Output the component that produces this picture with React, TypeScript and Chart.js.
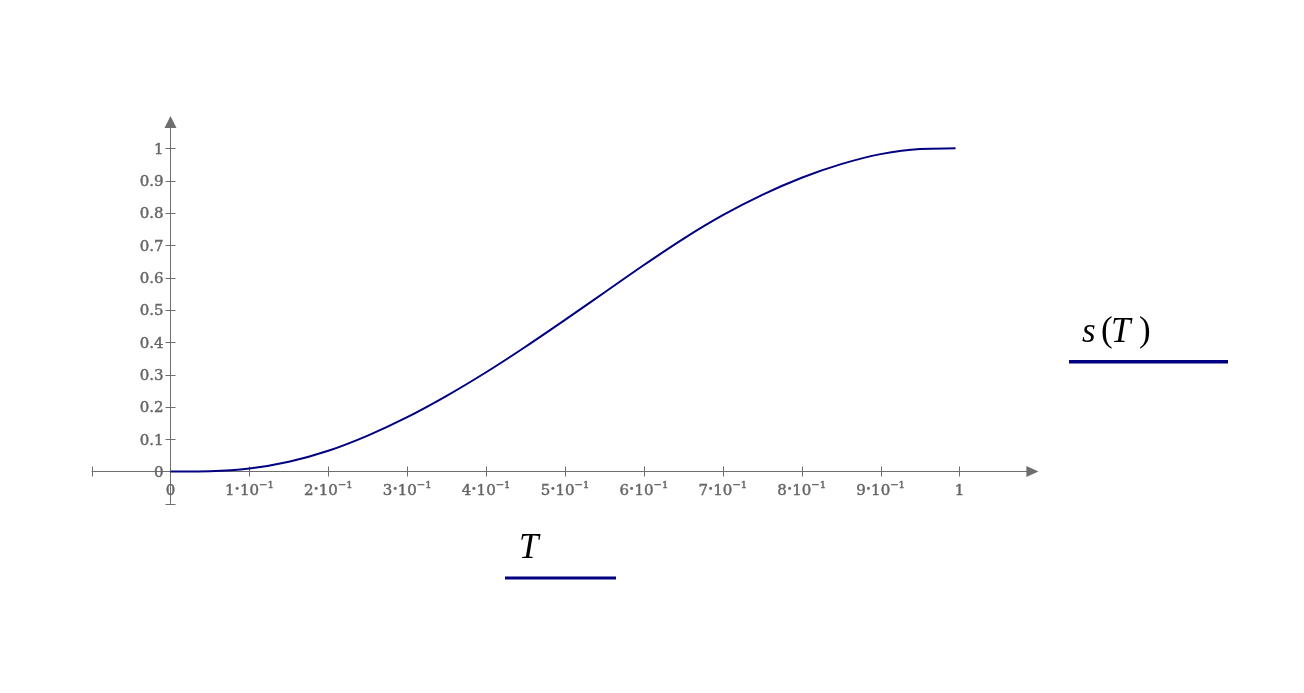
import React, { useEffect, useRef } from "react";
import { Chart, registerables } from "chart.js";

Chart.register(...registerables);

// ---- data ----
const T_VALUES = [0, 0.05, 0.1, 0.15, 0.2, 0.25, 0.3, 0.35, 0.4, 0.45, 0.5, 0.55, 0.6, 0.65, 0.7, 0.75, 0.8, 0.85, 0.9, 0.95, 0.995];
const S_VALUES = [0, 0.001, 0.009, 0.03, 0.064, 0.111, 0.168, 0.234, 0.307, 0.386, 0.469, 0.554, 0.639, 0.72, 0.793, 0.856, 0.909, 0.951, 0.982, 0.998, 1.0];

const X_TICKS = [0, 0.1, 0.2, 0.3, 0.4, 0.5, 0.6, 0.7, 0.8, 0.9, 1];
const X_TICK_LABELS = ["0", "1•10^−1", "2•10^−1", "3•10^−1", "4•10^−1", "5•10^−1", "6•10^−1", "7•10^−1", "8•10^−1", "9•10^−1", "1"];
const Y_TICKS = [0, 0.1, 0.2, 0.3, 0.4, 0.5, 0.6, 0.7, 0.8, 0.9, 1];
const Y_TICK_LABELS = ["0", "0.1", "0.2", "0.3", "0.4", "0.5", "0.6", "0.7", "0.8", "0.9", "1"];

const X_AXIS_LABEL = "T";
const Y_AXIS_LABEL = ["s", "(", "T", ")"];

const AXIS_COLOR = "#6e6e6e";
const TICK_TEXT_COLOR = "#666666";
const CURVE_COLOR = "#000080";
const TICK_FONT = '15px "DejaVu Serif", serif';
const SUP_FONT = '10px "DejaVu Serif", serif';
const DOT_FONT = '9px "DejaVu Serif", serif';

function boldText(ctx: CanvasRenderingContext2D, text: string, x: number, y: number) {
  ctx.fillText(text, x, y);
  ctx.strokeText(text, x, y);
}

function drawTickLabel(ctx: CanvasRenderingContext2D, label: string, cx: number, baseline: number) {
  const [main, sup] = label.split("^");
  const parts = main.split("•");
  const segs: { text: string; font: string; dy: number }[] = [];
  parts.forEach((p, i) => {
    if (i > 0) segs.push({ text: "•", font: DOT_FONT, dy: -3 });
    segs.push({ text: p, font: TICK_FONT, dy: 0 });
  });
  if (sup) segs.push({ text: sup, font: SUP_FONT, dy: -6.5 });
  let total = 0;
  const widths = segs.map((s) => {
    ctx.font = s.font;
    const w = ctx.measureText(s.text).width;
    total += w;
    return w;
  });
  let x = cx - total / 2;
  ctx.textAlign = "left";
  ctx.textBaseline = "alphabetic";
  segs.forEach((s, i) => {
    ctx.font = s.font;
    boldText(ctx, s.text, x, baseline + s.dy);
    x += widths[i];
  });
}

const axesPlugin = {
  id: "mathcadAxes",
  beforeDatasetsDraw(chart: any) {
    const ctx: CanvasRenderingContext2D = chart.ctx;
    const xs = chart.scales.x;
    const ys = chart.scales.y;
    const x0 = Math.round(xs.getPixelForValue(0)) + 0.5;
    const y0 = Math.round(ys.getPixelForValue(0)) + 0.5;
    const xL = xs.getPixelForValue(xs.min);
    const xR = xs.getPixelForValue(xs.max);
    const yB = ys.getPixelForValue(ys.min);
    const yT = ys.getPixelForValue(ys.max);
    ctx.save();
    ctx.strokeStyle = AXIS_COLOR;
    ctx.fillStyle = AXIS_COLOR;
    ctx.lineWidth = 1;
    ctx.beginPath();
    ctx.moveTo(xL, y0);
    ctx.lineTo(xR - 8, y0);
    ctx.moveTo(Math.round(xL) + 0.5, y0 - 5);
    ctx.lineTo(Math.round(xL) + 0.5, y0 + 5);
    ctx.moveTo(x0, yB);
    ctx.lineTo(x0, yT + 8);
    ctx.moveTo(x0 - 5, Math.round(yB) + 0.5);
    ctx.lineTo(x0 + 5, Math.round(yB) + 0.5);
    X_TICKS.forEach((v) => {
      if (v === 0) return;
      const px = Math.round(xs.getPixelForValue(v)) + 0.5;
      ctx.moveTo(px, y0 - 5);
      ctx.lineTo(px, y0 + 5);
    });
    Y_TICKS.forEach((v) => {
      if (v === 0) return;
      const py = Math.round(ys.getPixelForValue(v)) + 0.5;
      ctx.moveTo(x0 - 5, py);
      ctx.lineTo(x0 + 5, py);
    });
    ctx.stroke();
    ctx.beginPath();
    ctx.moveTo(xR, y0);
    ctx.lineTo(xR - 12, y0 - 5.5);
    ctx.lineTo(xR - 12, y0 + 5.5);
    ctx.closePath();
    ctx.fill();
    ctx.beginPath();
    ctx.moveTo(x0, yT);
    ctx.lineTo(x0 - 6, yT + 12);
    ctx.lineTo(x0 + 6, yT + 12);
    ctx.closePath();
    ctx.fill();

    ctx.fillStyle = TICK_TEXT_COLOR;
    ctx.strokeStyle = TICK_TEXT_COLOR;
    ctx.lineWidth = 0.45;
    X_TICKS.forEach((v, i) => {
      const px = xs.getPixelForValue(v);
      drawTickLabel(ctx, X_TICK_LABELS[i], px, y0 + 23);
    });
    ctx.font = TICK_FONT;
    ctx.textAlign = "right";
    ctx.textBaseline = "alphabetic";
    Y_TICKS.forEach((v, i) => {
      const py = ys.getPixelForValue(v);
      boldText(ctx, Y_TICK_LABELS[i], 163.5, py + 5.5);
    });
    ctx.restore();
  },
  afterDraw(chart: any) {
    const ctx: CanvasRenderingContext2D = chart.ctx;
    ctx.save();
    ctx.fillStyle = "#000000";
    ctx.textAlign = "left";
    ctx.textBaseline = "alphabetic";
    // x-axis expression
    ctx.font = 'italic 35px "Liberation Serif", serif';
    ctx.fillText(X_AXIS_LABEL, 519, 558);
    ctx.fillStyle = CURVE_COLOR;
    ctx.fillRect(505, 576.5, 111, 3);
    // y-axis expression (legend)
    ctx.fillStyle = "#000000";
    const glyphX = [1082, 1101, 1111, 1139];
    Y_AXIS_LABEL.forEach((s, i) => {
      const italic = s === "s" || s === "T";
      ctx.font = (italic ? "italic " : "") + '35px "Liberation Serif", serif';
      ctx.fillText(s, glyphX[i], italic ? 342 : 341);
    });
    ctx.fillStyle = CURVE_COLOR;
    ctx.fillRect(1069, 360, 159, 3.5);
    ctx.restore();
  },
};

export default function App() {
  const canvasRef = useRef<HTMLCanvasElement | null>(null);
  useEffect(() => {
    document.body.style.margin = "0";
    const canvas = canvasRef.current;
    if (!canvas) return;
    const chart = new Chart(canvas, {
      type: "line",
      data: {
        datasets: [
          {
            data: T_VALUES.map((t, i) => ({ x: t, y: S_VALUES[i] })),
            borderColor: CURVE_COLOR,
            borderWidth: 2,
            pointRadius: 0,
            fill: false,
            cubicInterpolationMode: "monotone",
          } as any,
        ],
      },
      options: {
        animation: false,
        responsive: false,
        devicePixelRatio: 1,
        events: [],
        layout: { padding: { left: 91.6, right: 265.6, top: 116, bottom: 189.2 } },
        scales: {
          x: { type: "linear", min: -0.1, max: 1.1, display: false },
          y: { type: "linear", min: -0.1, max: 1.1, display: false },
        },
        plugins: { legend: { display: false }, tooltip: { enabled: false } },
      },
      plugins: [axesPlugin],
    });
    return () => chart.destroy();
  }, []);
  return (
    <div style={{ position: "absolute", left: 0, top: 0, width: 1304, height: 693, background: "#fff" }}>
      <canvas ref={canvasRef} width={1304} height={693} style={{ width: 1304, height: 693, display: "block" }} />
    </div>
  );
}
